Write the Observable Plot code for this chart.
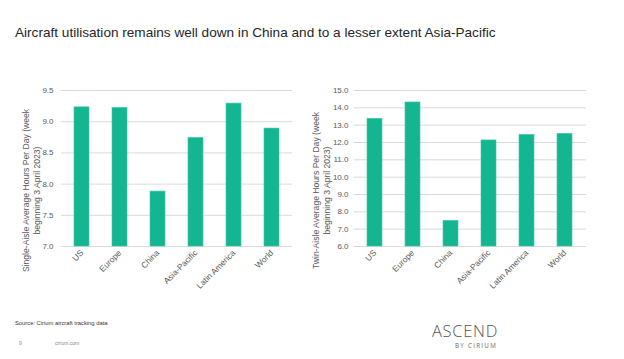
<!DOCTYPE html>
<html>
<head>
<meta charset="utf-8">
<script src="https://cdn.jsdelivr.net/npm/d3@7"></script>
<script src="https://cdn.jsdelivr.net/npm/@observablehq/plot@0.6"></script>
<style>
  html, body { margin: 0; padding: 0; background: #fff; }
  #page { position: relative; width: 624px; height: 359px; overflow: hidden; font-family: "Liberation Sans", Arial, sans-serif; }
  #title { position: absolute; left: 15px; top: 25px; font-size: 13.6px; color: #262626; white-space: nowrap; }
  .chart { position: absolute; top: 80px; }
  #left { left: 0; }
  #right { left: 312px; }
  #source { position: absolute; left: 15px; top: 320px; font-size: 5.8px; color: #333; white-space: nowrap; }
  #pagenum { position: absolute; left: 19px; top: 340px; font-size: 5px; color: #888; }
  #url { position: absolute; left: 55px; top: 340px; font-size: 5px; color: #888; }
  #logo { position: absolute; left: 432px; top: 322px; font-size: 16.5px; line-height: 18px; color: #555; font-weight: 300; font-family: "Open Sans", "Liberation Sans", sans-serif; letter-spacing: 0.7px; }
  #by { position: absolute; left: 455px; top: 342px; font-size: 6.2px; line-height: 8px; color: #666; letter-spacing: 1.3px; font-family: "Open Sans", sans-serif; }
</style>
</head>
<body>
<div id="page">
  <div id="title"></div>
  <div id="left" class="chart"></div>
  <div id="right" class="chart"></div>
  <div id="source"></div>
  <div id="pagenum"></div>
  <div id="url"></div>
  <div id="logo"></div>
  <div id="by"></div>
</div>
<script>
const titleText = "Aircraft utilisation remains well down in China and to a lesser extent Asia-Pacific";
const regions = ["US", "Europe", "China", "Asia-Pacific", "Latin America", "World"];
const singleAisle = [9.23, 9.22, 7.88, 8.74, 9.29, 8.89];
const twinAisle = [13.37, 14.31, 7.48, 12.12, 12.44, 12.5];
const singleTicks = [7.0, 7.5, 8.0, 8.5, 9.0, 9.5];
const twinTicks = [6, 7, 8, 9, 10, 11, 12, 13, 14, 15];
const singleLabel = "Single-Aisle Average Hours Per Day (week\nbeginning 3 April 2023)";
const twinLabel = "Twin-Aisle Average Hours Per Day (week\nbeginning 3 April 2023)";
const sourceText = "Source: Cirium aircraft tracking data";
const pageNum = "9";
const urlText = "cirium.com";
const logoText = "ASCEND";
const byText = "BY CIRIUM";

const barColor = "#14b692";
const gridColor = "#d9d9d9";
const textColor = "#595959";

function makeChart(values, ticks, label, opts) {
  const data = regions.map((r, i) => ({region: r, value: values[i]}));
  const yMin = ticks[0], yMax = ticks[ticks.length - 1];
  return Plot.plot({
    width: 312,
    height: 230,
    marginTop: 10,
    marginBottom: 64,
    marginLeft: opts.marginLeft,
    marginRight: opts.marginRight,
    style: {fontFamily: "Liberation Sans, Arial, sans-serif", fontSize: "8px", color: textColor, background: "transparent", overflow: "visible"},
    x: {domain: regions, paddingInner: 0.6, paddingOuter: 0.3},
    y: {domain: [yMin, yMax]},
    marks: [
      Plot.gridY(ticks, {stroke: gridColor, strokeOpacity: 1, strokeWidth: 1}),
      Plot.ruleY([yMin], {stroke: gridColor, strokeWidth: 1}),
      Plot.barY(data, {x: "region", y1: yMin, y2: "value", fill: barColor, stroke: "#3fc7a5", strokeWidth: 0.6}),
      Plot.axisY(ticks, {tickSize: 0, tickPadding: opts.tickPad, tickFormat: d3.format(".1f"), label: null, fill: textColor, fontSize: 8}),
      Plot.axisX({tickSize: 0, tickPadding: 5, tickRotate: -45, label: null, fill: textColor, fontSize: 8.4}),
      Plot.text([label], {frameAnchor: "left", rotate: -90, dx: opts.labelDx, dy: 22, textAnchor: "middle", lineAnchor: "middle", lineHeight: 1.3, fill: textColor, fontSize: 8.6})
    ]
  });
}

document.getElementById("title").textContent = titleText;
document.getElementById("left").append(makeChart(singleAisle, singleTicks, singleLabel, {marginLeft: 61, marginRight: 20, tickPad: 8, labelDx: -31}));
document.getElementById("right").append(makeChart(twinAisle, twinTicks, twinLabel, {marginLeft: 42, marginRight: 38, tickPad: 6, labelDx: -34}));
document.getElementById("source").textContent = sourceText;
document.getElementById("pagenum").textContent = pageNum;
document.getElementById("url").textContent = urlText;
document.getElementById("logo").textContent = logoText;
document.getElementById("by").textContent = byText;
</script>
</body>
</html>
